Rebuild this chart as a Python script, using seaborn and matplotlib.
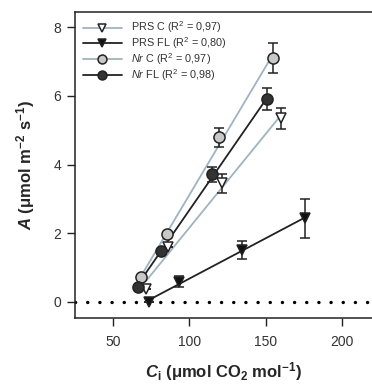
import numpy as np
import pandas as pd
import matplotlib
matplotlib.use("Agg")
import matplotlib.pyplot as plt
import seaborn as sns

# Data
prs_c_ci = [71.7, 85.9, 121.3, 160.2]
prs_c_a = [0.38, 1.60, 3.45, 5.35]
prs_c_err = [0.0, 0.0, 0.27, 0.30]

prs_fl_ci = [73.3, 93.0, 134.3, 175.7]
prs_fl_a = [-0.02, 0.58, 1.50, 2.43]
prs_fl_err = [0.0, 0.16, 0.27, 0.57]

nr_c_ci = [68.5, 85.4, 119.6, 154.8]
nr_c_a = [0.73, 1.96, 4.79, 7.11]
nr_c_err = [0.0, 0.0, 0.27, 0.45]

nr_fl_ci = [66.3, 81.1, 114.6, 151.1]
nr_fl_a = [0.44, 1.49, 3.71, 5.90]
nr_fl_err = [0.0, 0.0, 0.23, 0.32]

labels = ["PRS C (R$^2$ = 0,97)", "PRS FL (R$^2$ = 0,80)",
          "$\\it{Nr}$ C (R$^2$ = 0,97)", "$\\it{Nr}$ FL (R$^2$ = 0,98)"]

sns.set_style("ticks")
plt.rcParams['font.family'] = ['Liberation Sans', 'DejaVu Sans']
plt.rcParams['mathtext.fontset'] = 'custom'
plt.rcParams['mathtext.rm'] = 'Liberation Sans'
plt.rcParams['mathtext.it'] = 'Liberation Sans:italic'
plt.rcParams['mathtext.bf'] = 'Liberation Sans:bold'
plt.rcParams['mathtext.bfit'] = 'Liberation Sans:bold:italic'

fig = plt.figure(figsize=(3.72, 3.87), dpi=100)
ax = fig.add_axes([0.2016, 0.178, 0.8, 0.791])

series = [
    (prs_c_ci, prs_c_a, prs_c_err, "v", "white", "#9fb4bf", 7.5),
    (prs_fl_ci, prs_fl_a, prs_fl_err, "v", "#111111", "#222222", 7.5),
    (nr_c_ci, nr_c_a, nr_c_err, "o", "#c8c8c8", "#9fb4bf", 8),
    (nr_fl_ci, nr_fl_a, nr_fl_err, "o", "#333333", "#222222", 8),
]

handles = []
for (x, y, e, m, fc, lc, ms), lab in zip(series, labels):
    df = pd.DataFrame({"ci": x, "a": y})
    sns.regplot(data=df, x="ci", y="a", ax=ax, ci=None, scatter=False,
                line_kws={"color": lc, "lw": 1.3, "zorder": 2})
    ax.errorbar(x, y, yerr=e, fmt="none", ecolor="#222222", elinewidth=1.1,
                capsize=3.5, capthick=1.1, zorder=3)
    ax.plot(x, y, ls="none", marker=m, ms=ms, mfc=fc, mec="#222222",
            mew=1.1, zorder=4)
    h, = ax.plot([], [], color=lc, lw=1.3, marker=m, ms=ms * 0.8, mfc=fc,
                 mec="#222222", mew=1.1)
    handles.append(h)

ax.axhline(0, color="black", ls=(0, (0.05, 3.6)), lw=2.4, zorder=1,
           dash_capstyle="round")

ax.set_xlim(25, 220)
ax.set_ylim(-0.48, 8.45)
ax.set_xticks([50, 100, 150, 200])
ax.set_yticks([0, 2, 4, 6, 8])
ax.tick_params(axis="both", direction="out", length=6, width=1,
               labelsize=10, colors="#222222", labelcolor="#333333", pad=4)
ax.tick_params(axis="x", pad=6)
for s in ["left", "bottom", "top"]:
    ax.spines[s].set_linewidth(1.1)
    ax.spines[s].set_color("#222222")
ax.spines["right"].set_visible(False)

ax.set_xlabel("$\\mathbfit{C}_\\mathbf{i}$ ($\\mathbf{\\mu}$mol CO$_\\mathbf{2}$ mol$^{\\mathbf{-1}}$)",
              fontsize=12, fontweight="bold", labelpad=8)
ax.set_ylabel("$\\mathbfit{A}$ ($\\mathbf{\\mu}$mol m$^{\\mathbf{-2}}$ s$^{\\mathbf{-1}}$)",
              fontsize=12, fontweight="bold", labelpad=12)

leg = ax.legend(handles, labels, loc="upper left", frameon=False,
                fontsize=7.8, handlelength=3.6, labelspacing=0.0,
                borderaxespad=0.3, handletextpad=0.9,
                bbox_to_anchor=(0.0, 1.0))
for t in leg.get_texts():
    t.set_color("#333333")

fig.savefig("out.png", dpi=100)
